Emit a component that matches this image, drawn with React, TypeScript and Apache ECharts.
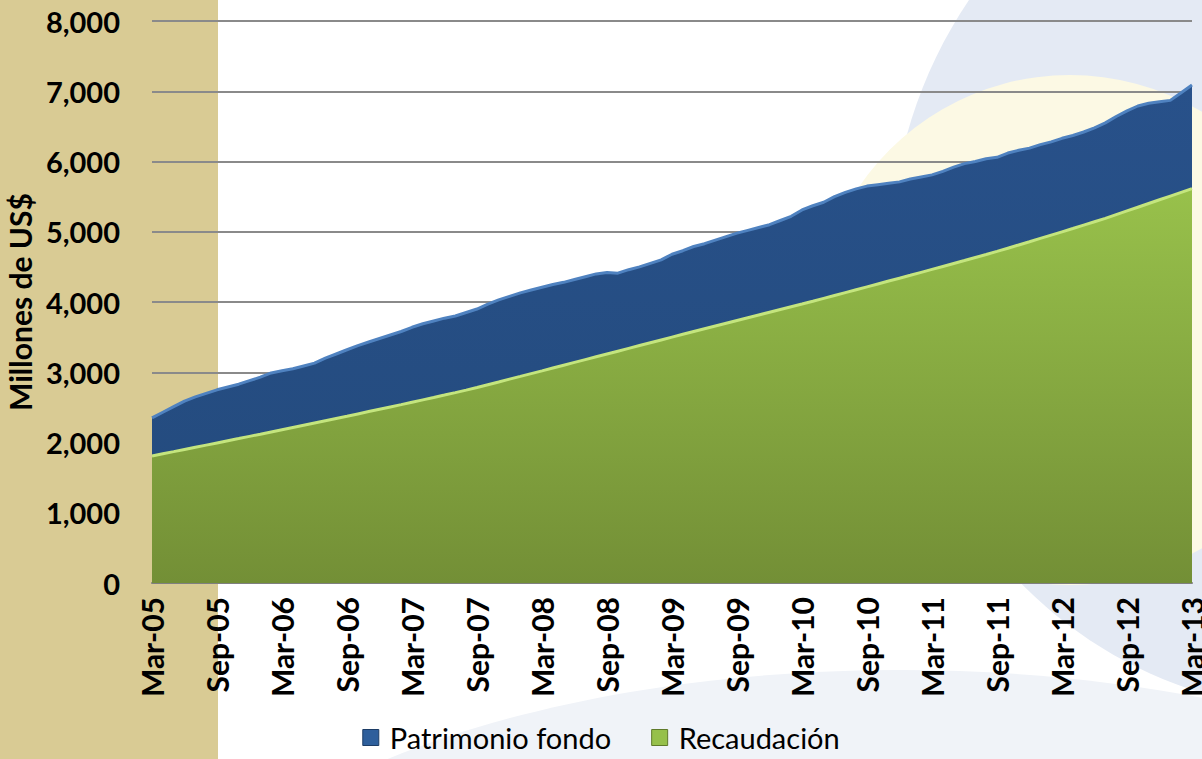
import React, { useEffect, useRef } from "react";
import * as echarts from "echarts";

const monthNames = ["Mar", "Apr", "May", "Jun", "Jul", "Aug", "Sep", "Oct", "Nov", "Dec", "Jan", "Feb"];
const startYear = 5;
const monthCount = 97;
const categories: string[] = [];
for (let i = 0; i < monthCount; i++) {
  const m = monthNames[i % 12];
  const yr = startYear + Math.floor((i + 2) / 12);
  categories.push(`${m}-${String(yr).padStart(2, "0")}`);
}

const patrimonio = [
  2350, 2430, 2510, 2590, 2650, 2700, 2750, 2790, 2830, 2880, 2930, 2990,
  3020, 3050, 3090, 3130, 3200, 3260, 3320, 3380, 3430, 3480, 3530, 3580,
  3640, 3690, 3730, 3770, 3800, 3850, 3900, 3970, 4030, 4080, 4130, 4170,
  4210, 4250, 4280, 4320, 4360, 4400, 4420, 4410, 4460, 4500, 4550, 4600,
  4680, 4730, 4790, 4830, 4880, 4930, 4980, 5020, 5060, 5100, 5160, 5220,
  5310, 5370, 5420, 5500, 5560, 5610, 5650, 5670, 5690, 5710, 5750, 5780,
  5810, 5860, 5920, 5970, 6000, 6040, 6060, 6120, 6160, 6190, 6240, 6280,
  6330, 6370, 6420, 6480, 6550, 6640, 6720, 6790, 6830, 6850, 6870, 6980,
  7090,
];

const recaudacion = [
  1808, 1839, 1870, 1901, 1932, 1963, 1994, 2025, 2056, 2087, 2118, 2150,
  2182, 2214, 2246, 2278, 2310, 2342, 2374, 2407, 2440, 2473, 2506, 2539,
  2573, 2607, 2641, 2675, 2710, 2746, 2784, 2823, 2862, 2902, 2941, 2981,
  3020, 3060, 3100, 3140, 3180, 3220, 3260, 3300, 3340, 3380, 3420, 3460,
  3500, 3540, 3580, 3620, 3659, 3698, 3737, 3776, 3815, 3854, 3893, 3932,
  3971, 4011, 4052, 4093, 4134, 4175, 4216, 4257, 4298, 4339, 4380, 4422,
  4464, 4506, 4548, 4590, 4633, 4676, 4720, 4766, 4812, 4858, 4905, 4952,
  4999, 5046, 5094, 5142, 5190, 5243, 5296, 5349, 5402, 5455, 5508, 5561,
  5614,
];

const seriesNames = ["Patrimonio fondo", "Recaudación"];
const yAxisName = "Millones de US$";

export default function App() {
  const ref = useRef<HTMLDivElement>(null);
  useEffect(() => {
    if (!ref.current) return;
    const chart = echarts.init(ref.current, undefined, { renderer: "svg" });
    const font = "Lato, 'Open Sans', sans-serif";
    chart.setOption({
      animation: false,
      backgroundColor: "#ffffff",
      graphic: [
        { type: "ellipse", z: -21, silent: true, shape: { cx: 900, cy: 1000, rx: 750, ry: 330 }, style: { fill: "#f0f3f8" } },
        { type: "ellipse", z: -20, silent: true, shape: { cx: 1320, cy: 260, rx: 430, ry: 450 }, style: { fill: "#e4eaf4" } },
        { type: "circle", z: -19, silent: true, shape: { cx: 1070, cy: 330, r: 255 }, style: { fill: "#fcf9e4" } },
        { type: "rect", z: -10, silent: true, shape: { x: 0, y: 0, width: 218, height: 759 }, style: { fill: "#d9cb94" } },
      ],
      grid: { left: 152, right: 10, top: 21, bottom: 176, containLabel: false, outerBoundsMode: "none" },
      legend: {
        bottom: 2,
        left: "center",
        itemWidth: 16,
        itemHeight: 16,
        itemGap: 40,
        icon: "rect",
        textStyle: { fontFamily: font, fontSize: 29, color: "#000", padding: [0, 0, 0, 6] },
        data: [
          { name: seriesNames[0], itemStyle: { color: "#2e5f9c", borderColor: "#1c3c66", borderWidth: 1 } },
          { name: seriesNames[1], itemStyle: { color: "#96c04a", borderColor: "#5f7a2a", borderWidth: 1 } },
        ],
      },
      xAxis: {
        type: "category",
        data: categories,
        boundaryGap: false,
        axisLine: { show: true, lineStyle: { color: "#7f7f7f", width: 2 } },
        axisTick: { show: false },
        axisLabel: {
          interval: 5,
          rotate: 90,
          margin: 14,
          fontFamily: font,
          fontWeight: "bold",
          fontSize: 30,
          color: "#000",
          hideOverlap: false,
        },
        splitLine: { show: false },
      },
      yAxis: {
        type: "value",
        min: 0,
        max: 8000,
        interval: 1000,
        name: yAxisName,
        nameLocation: "middle",
        nameGap: 117,
        nameTextStyle: { fontFamily: font, fontWeight: "bold", fontSize: 30, color: "#000" },
        axisLine: { show: false },
        axisTick: { show: false },
        axisLabel: {
          margin: 32,
          fontFamily: font,
          fontWeight: "bold",
          fontSize: 29,
          color: "#000",
          formatter: (v: number) => v.toLocaleString("en-US"),
        },
        splitLine: { show: true, lineStyle: { color: "#8a8a8a", width: 2 } },
      },
      series: [
        {
          name: seriesNames[0],
          type: "line",
          data: patrimonio,
          showSymbol: false,
          smooth: false,
          itemStyle: { color: "#2b5a94" },
          lineStyle: { color: "#4f82c0", width: 3 },
          areaStyle: {
            opacity: 1,
            color: new echarts.graphic.LinearGradient(0, 0, 0, 1, [
              { offset: 0, color: "#28518a" },
              { offset: 1, color: "#234a7c" },
            ]),
          },
          z: 2,
        },
        {
          name: seriesNames[1],
          type: "line",
          data: recaudacion,
          showSymbol: false,
          smooth: false,
          itemStyle: { color: "#8db544" },
          lineStyle: { color: "#c4e57e", width: 3 },
          areaStyle: {
            opacity: 1,
            color: new echarts.graphic.LinearGradient(0, 0, 0, 1, [
              { offset: 0, color: "#98c14b" },
              { offset: 1, color: "#738f36" },
            ]),
          },
          z: 3,
        },
      ],
    });
    return () => chart.dispose();
  }, []);
  return <div ref={ref} style={{ position: "fixed", left: 0, top: 0, width: 1202, height: 759 }} />;
}
